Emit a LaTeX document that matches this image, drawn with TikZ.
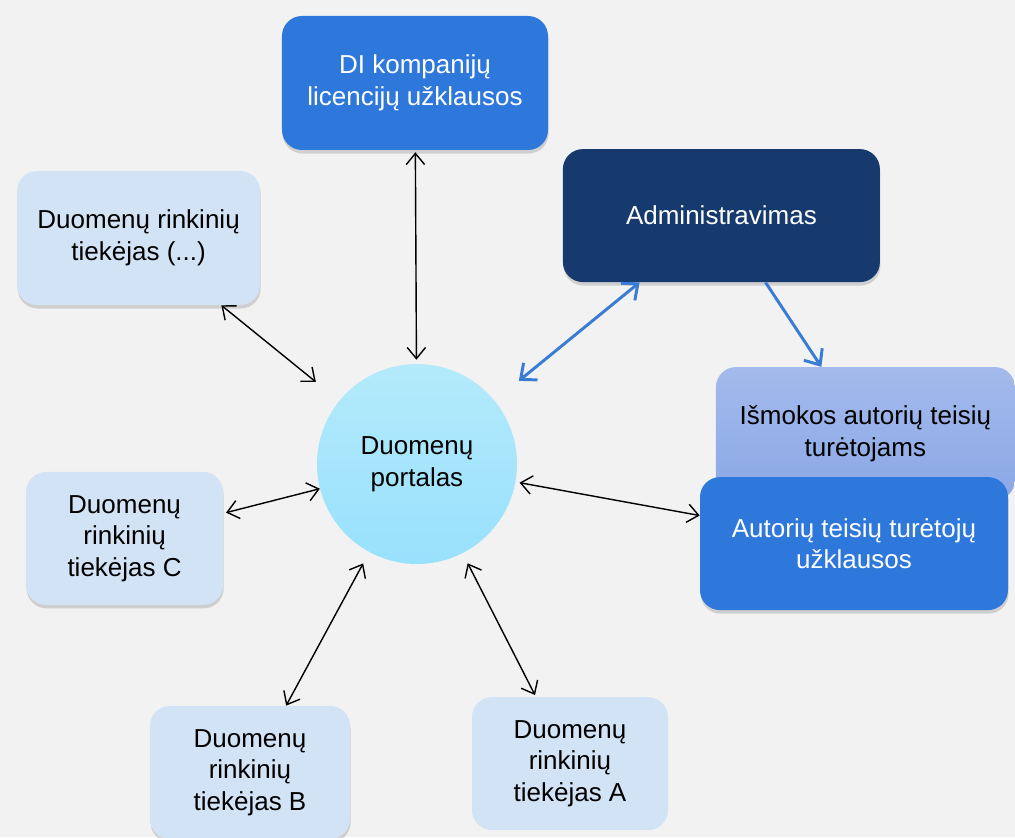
\documentclass[tikz,border=0pt]{standalone}
\usepackage{fontspec}
\setmainfont{Liberation Sans}
\usetikzlibrary{calc}
\usetikzlibrary{arrows.meta,shadows}

\definecolor{fonas}{RGB}{242,242,242}
\definecolor{melyna}{RGB}{46,120,219}
\definecolor{tamsi}{RGB}{22,58,110}
\definecolor{sviesi}{RGB}{211,227,246}
\definecolor{ismvir}{RGB}{164,186,236}
\definecolor{ismapa}{RGB}{138,168,230}
\definecolor{ratvir}{RGB}{180,234,251}
\definecolor{ratapa}{RGB}{152,225,253}
\definecolor{rodmel}{RGB}{58,123,213}

\begin{document}
\begin{tikzpicture}[
		box/.style={rounded corners=0.5cm, align=center, inner sep=0pt, minimum height=3.325cm, font=\fontsize{18.5}{22.5}\selectfont},
		sesel/.style={drop shadow={shadow xshift=0.4pt, shadow yshift=-2.5pt, opacity=0.3}},
		rod/.style={{Straight Barb[length=2.8mm,width=4.6mm]}-{Straight Barb[length=2.8mm,width=4.6mm]}, line width=1pt, black},
		rodm/.style={line width=2.1pt, rodmel}]
			\fill[fonas] (-10.425,11.6) rectangle (14.95,-9.325);
			\useasboundingbox (-10.425,11.6) rectangle (14.95,-9.325);

			\node (portalas) at (0,0) [circle, minimum size=5cm, top color=ratvir, bottom color=ratapa, align=center, font=\fontsize{18.5}{22.5}\selectfont] {Duomenų\\portalas};

			\node (di) at ($(portalas)+(-0.05,9.525)$) [box, sesel, fill=melyna, text=white, minimum width=6.65cm, minimum height=3.35cm] {DI kompanijų\\licencijų užklausos};
			\node (admin) at ($(portalas)+(7.61,6.21)$) [box, sesel, fill=tamsi, text=white, minimum width=7.925cm] {Administravimas};
			\node (tiekX) at ($(portalas)+(-6.96,5.65)$) [box, sesel, fill=sviesi, minimum width=6.075cm, minimum height=3.35cm] {Duomenų rinkinių\\tiekėjas (...)};
			\node (ismokos) at ($(portalas)+(11.21,0.76)$) [box, top color=ismvir, bottom color=ismapa, minimum width=7.475cm] {Išmokos autorių teisių\\turėtojams};
			\node (uzkl) at ($(portalas)+(10.925,-1.99)$) [box, sesel, fill=melyna, text=white, minimum width=7.7cm] {Autorių teisių turėtojų\\užklausos};
			\node (tiekC) at ($(portalas)+(-7.31,-1.86)$) [box, sesel, fill=sviesi, minimum width=4.925cm] {Duomenų\\rinkinių\\tiekėjas C};
			\node (tiekB) at ($(portalas)+(-4.175,-7.71)$) [box, sesel, fill=sviesi, minimum width=5cm] {Duomenų\\rinkinių\\tiekėjas B};
			\node (tiekA) at ($(portalas)+(3.825,-7.49)$) [box, fill=sviesi, minimum width=4.9cm] {Duomenų\\rinkinių\\tiekėjas A};

			\draw[rod, shorten <=0.05cm, shorten >=0.1cm] (di) -- (portalas);
			\draw[rod, shorten >=0.75cm] (tiekX) -- (portalas);
			\draw[rod, shorten <=0.07cm] (tiekC) -- (portalas);
			\draw[rod, shorten >=0.32cm] (tiekB) -- (portalas);
			\draw[rod, shorten <=0.05cm, shorten >=0.28cm] (tiekA) -- (portalas);
			\draw[rod, shorten >=0.1cm] (uzkl) -- (portalas);

			\draw[rodm, {Straight Barb[length=3.2mm,width=5.5mm]}-{Straight Barb[length=3.2mm,width=5.5mm]}, shorten >=0.78cm] (admin) -- (portalas);
			\draw[rodm, -{Straight Barb[length=3.2mm,width=5.5mm]}] (admin) -- (ismokos);
		\end{tikzpicture}
\end{document}
